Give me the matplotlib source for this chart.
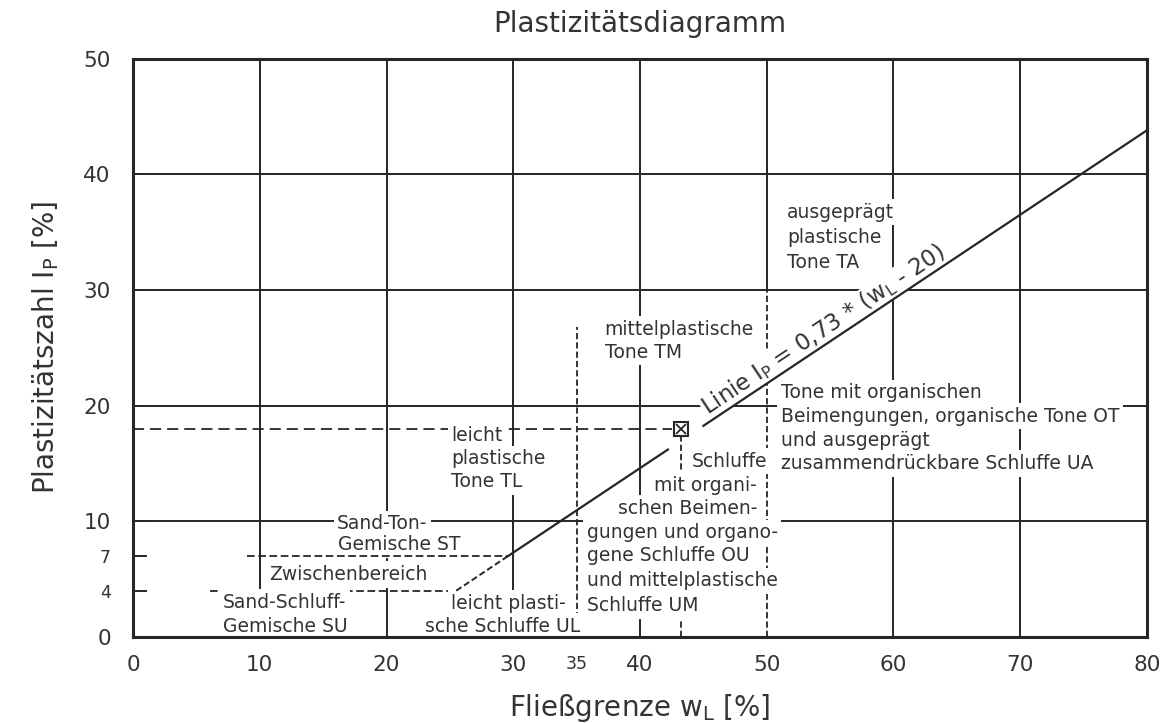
import numpy as np
import matplotlib
matplotlib.use('Agg')
import matplotlib.pyplot as plt

plt.rc('font', family='DejaVu Sans', size=13.5)
plt.rc('lines', scale_dashes=False)

ink = '#262626'
txt = '#333333'

# axis ticks
x_ticks = [0, 10, 20, 30, 35, 40, 50, 60, 70, 80]
y_ticks = [0, 4, 7, 10, 20, 30, 40, 50]
small_ticks = ['35', '4', '7']

# solid grid lines (vertical ones start at grid_x_from)
grid_x = [10, 20, 30, 40, 50, 60, 70]
grid_x_from = [4, 0, 0, 0, 30, 0, 0]
grid_y = [10, 20, 30, 40]

# dashed boundaries
vdash_x = [35, 50, 43.2]
vdash_top = [26.8, 30.0, 17.3]
hdash_y = [7, 4]
hdash_from = [9.0, 6.1]
hdash_to = [29.6, 25.5]
ref_y = 18.0
ref_to = 42.5

# measured soil sample
pt_wl = [43.2]
pt_ip = [18.0]

# A-line  I_P = 0,73 * (w_L - 20)
aline_wl = [29.6, 42.2, np.nan, 45.0, 80.0]
aline_ip = [7.0, 16.2, np.nan, 18.25, 43.8]
aline_dash_wl = [25.5, 29.6]
aline_dash_ip = [4.0, 7.0]

# region labels, one entry per text line
lab_s = ['ausgeprägt', 'plastische', 'Tone TA',
         'mittelplastische', 'Tone TM',
         'Tone mit organischen', 'Beimengungen, organische Tone OT',
         'und ausgeprägt', 'zusammendrückbare Schluffe UA',
         'leicht', 'plastische', 'Tone TL',
         'Schluffe', 'mit organi-', 'schen Beimen-', 'gungen und organo-',
         'gene Schluffe OU', 'und mittelplastische', 'Schluffe UM',
         'Sand-Ton-', 'Gemische ST', 'Zwischenbereich',
         'Sand-Schluff-', 'Gemische SU', 'leicht plasti-', 'sche Schluffe UL']
lab_x = [51.6, 51.6, 51.6,
         37.2, 37.2,
         51.1, 51.1, 51.1, 51.1,
         25.1, 25.1, 25.1,
         44.1, 41.1, 38.3, 35.8, 35.8, 35.8, 35.8,
         16.1, 16.2, 10.7,
         7.1, 7.1, 25.1, 23.0]
lab_y = [36.7, 34.5, 32.4,
         26.6, 24.6,
         21.1, 19.1, 17.0, 15.0,
         17.4, 15.4, 13.4,
         15.2, 13.1, 11.1, 9.0, 7.0, 4.85, 2.7,
         9.8, 7.95, 5.4,
         3.0, 0.9, 2.9, 0.9]

fig = plt.figure(figsize=(11.73, 7.23), dpi=100)
ax = fig.add_subplot(111)
fig.subplots_adjust(left=0.1134, right=0.9778, bottom=0.119, top=0.919)
ax.set_xlim(0, 80)
ax.set_ylim(0, 50)

# grid
for gx, g0 in zip(grid_x, grid_x_from):
    ax.plot([gx, gx], [g0, 50], color=ink, lw=1.4, zorder=2)
for gy in grid_y:
    ax.plot([0, 80], [gy, gy], color=ink, lw=1.4, zorder=2)

# boundaries
for vx, vt in zip(vdash_x, vdash_top):
    ax.plot([vx, vx], [0, vt], color=ink, lw=1.3, ls=(0, (4.5, 2.2)), zorder=2)
ax.plot([hdash_from[0], hdash_to[0]], [hdash_y[0], hdash_y[0]], color=ink, lw=1.3,
        ls=(0, (5.5, 2.6)), zorder=2.25)
ax.plot([hdash_from[1], hdash_to[1]], [hdash_y[1], hdash_y[1]], color=ink, lw=1.3,
        ls=(0, (5.5, 2.6)), zorder=2)
ax.plot([0, ref_to], [ref_y, ref_y], color=ink, lw=1.3, ls=(0, (8, 4.3)), zorder=2)

# A-line
ax.plot(aline_wl, aline_ip, color=ink, lw=1.6, zorder=2.3)
ax.plot(aline_dash_wl, aline_dash_ip, color=ink, lw=1.4, ls=(0, (4.5, 2.2)), zorder=2.3)

# sample point
ax.plot(pt_wl, pt_ip, ls='none', marker='s', ms=10, mfc='white', mec=ink, mew=1.5, zorder=2.4)
ax.plot(pt_wl, pt_ip, ls='none', marker='x', ms=7, mec=ink, mew=1.3, zorder=2.45)

# region labels (white box per line masks the grid)
for s, lx, ly in zip(lab_s, lab_x, lab_y):
    ax.text(lx, ly, s, ha='left', va='center', color=txt, fontsize=13.5, zorder=2.2,
            bbox=dict(facecolor='white', edgecolor='none', pad=2.5))

# label along the A-line
p1 = ax.transData.transform((aline_wl[3], aline_ip[3]))
p2 = ax.transData.transform((aline_wl[4], aline_ip[4]))
ang = np.degrees(np.arctan2(p2[1] - p1[1], p2[0] - p1[0]))
off = 4.5
ax.annotate(r'Linie I$_\mathregular{P}$ = 0,73 * (w$_\mathregular{L}$ - 20)',
            xy=(aline_wl[3] + 0.6, aline_ip[3] + 0.44),
            xytext=(-off * np.sin(np.radians(ang)), off * np.cos(np.radians(ang))),
            textcoords='offset points', rotation=ang, rotation_mode='anchor',
            ha='left', va='baseline', fontsize=16.5, color=txt, zorder=2.2,
            bbox=dict(facecolor='white', edgecolor='none', pad=0.5))

# axes
ax.set_xticks(x_ticks, labels=[str(v) for v in x_ticks])
ax.set_yticks(y_ticks, labels=[str(v) for v in y_ticks])
ax.tick_params('x', length=0, pad=13, labelsize=15.5, labelcolor=txt)
ax.tick_params('y', length=10, width=1.4, direction='in', color=ink, pad=16,
               labelsize=15.5, labelcolor=txt)
for lbl in ax.get_xticklabels() + ax.get_yticklabels():
    if lbl.get_text() in small_ticks:
        lbl.set_fontsize(12.5)
for sp in ax.spines.values():
    sp.set_linewidth(2.2)
    sp.set_color(ink)

ax.set_xlabel(r'Fließgrenze w$_\mathregular{L}$ [%]', fontsize=20, color=txt, labelpad=12)
ax.set_ylabel(r'Plastizitätszahl I$_\mathregular{P}$ [%]', fontsize=20, color=txt, labelpad=16)
ax.set_title('Plastizitätsdiagramm', fontsize=20, color=txt, pad=19)

fig.savefig('out.png', dpi=100, facecolor='white')
